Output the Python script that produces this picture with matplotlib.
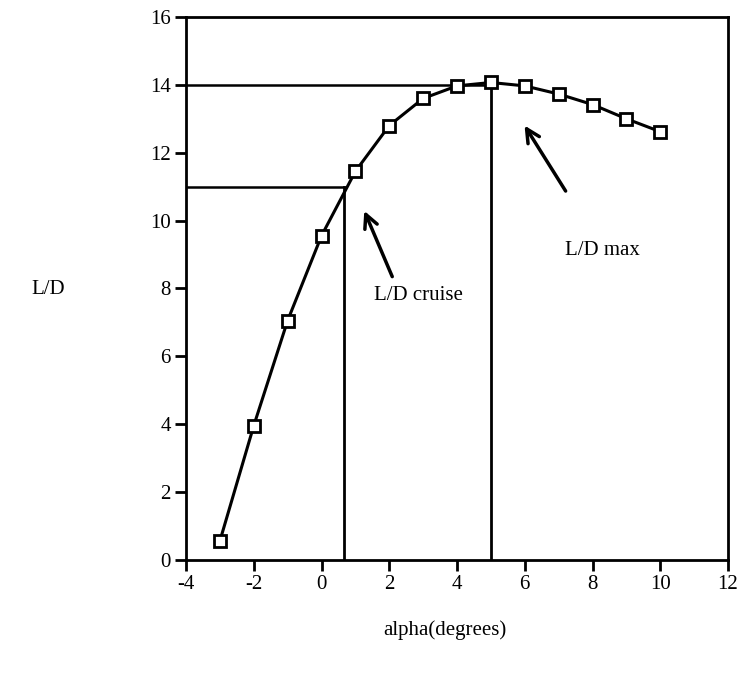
import numpy as np
import matplotlib
matplotlib.use("Agg")
from matplotlib import pyplot as plt

# data
alpha = [-3, -2, -1, 0, 1, 2, 3, 4, 5, 6, 7, 8, 9, 10]
lift_drag = [0.55, 3.95, 7.05, 9.55, 11.45, 12.8, 13.6, 13.97, 14.07, 13.97, 13.73, 13.42, 13.0, 12.62]

# guide lines for L/D max and cruise
ld_max = 14.0
alpha_max = 5.0
ld_cruise = 11.0
alpha_cruise = 0.67

x_ticks = [-4, -2, 0, 2, 4, 6, 8, 10, 12]
y_ticks = [0, 2, 4, 6, 8, 10, 12, 14, 16]

plt.rcParams['font.family'] = ['Liberation Serif', 'DejaVu Serif']
plt.rcParams['axes.unicode_minus'] = False

fig = plt.figure(figsize=(7.37, 6.74), dpi=100)
ax = fig.add_axes([0.2524, 0.1697, 0.7354, 0.805])

# guide lines
ax.plot([-4, alpha_max], [ld_max, ld_max], color='black', lw=1.8)
ax.plot([alpha_max, alpha_max], [0, ld_max], color='black', lw=2)
ax.plot([-4, alpha_cruise], [ld_cruise, ld_cruise], color='black', lw=1.8)
ax.plot([alpha_cruise, alpha_cruise], [0, ld_cruise], color='black', lw=2)

# curve with open squares
ax.plot(alpha, lift_drag, color='black', lw=2.2, marker='s', markersize=8,
        markerfacecolor='white', markeredgecolor='black', markeredgewidth=2, zorder=5)

# arrows + labels
ax.annotate('', xy=(1.23, 10.36), xytext=(2.12, 8.27),
            arrowprops=dict(arrowstyle='->', lw=2.5, color='black', mutation_scale=24))
ax.annotate('', xy=(5.95, 12.87), xytext=(7.25, 10.8),
            arrowprops=dict(arrowstyle='->', lw=2.5, color='black', mutation_scale=24))
ax.text(2.85, 7.8, 'L/D cruise', fontsize=15, ha='center', va='center')
ax.text(8.3, 9.13, 'L/D max', fontsize=15, ha='center', va='center')

ax.set_xlim(-4, 12)
ax.set_ylim(0, 16)
ax.set_xticks(x_ticks)
ax.set_yticks(y_ticks)
ax.tick_params(direction='out', length=8, width=2, labelsize=15, pad=3)

for s in ax.spines.values():
    s.set_linewidth(2)

fig.text(48 / 737, 1 - 290 / 674, 'L/D', fontsize=15, ha='center', va='center')
fig.text(445 / 737, 1 - 630 / 674, 'alpha(degrees)', fontsize=15, ha='center', va='center')

fig.savefig('out.png', dpi=100)
